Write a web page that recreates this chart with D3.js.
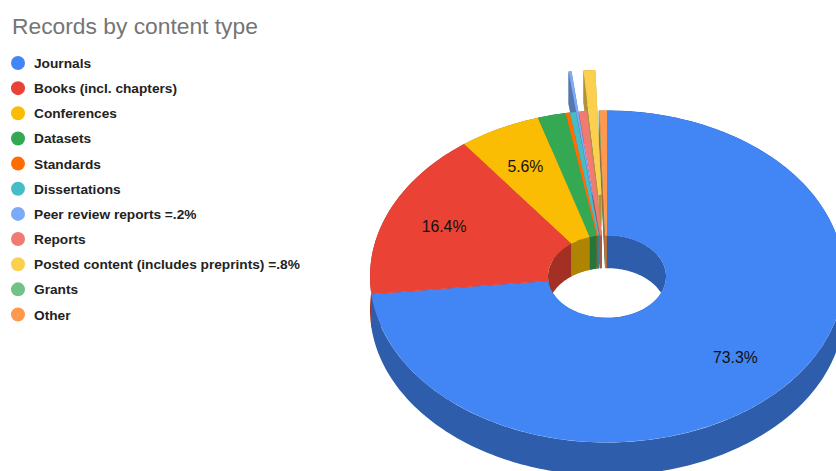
<!DOCTYPE html>
<html>
<head>
<meta charset="utf-8">
<title>Records by content type</title>
<script src="https://cdn.jsdelivr.net/npm/d3@7/dist/d3.min.js"></script>
<style>
  html, body { margin: 0; padding: 0; background: #fff; overflow: hidden; }
  svg { display: block; font-family: "Liberation Sans", Arial, sans-serif; }
</style>
</head>
<body>
<svg id="chart" width="836" height="471"></svg>
<script>
// Share of records per content type, in percent
const categories = ["Journals", "Books (incl. chapters)", "Conferences", "Datasets", "Standards",
  "Dissertations", "Peer review reports =.2%", "Reports", "Posted content (includes preprints) =.8%",
  "Grants", "Other"];
const shares = [73.3, 16.4, 5.6, 1.9, 0.3, 0.4, 0.2, 0.55, 0.8, 0.05, 0.5];
const colors = ["#4285f4", "#ea4335", "#fbbc04", "#34a853", "#ff6d01", "#46bdc6",
  "#7baaf7", "#f07b72", "#fcd04f", "#71c287", "#ff994d"];
const pulledOut = ["Peer review reports =.2%", "Posted content (includes preprints) =.8%"];
const valueLabels = ["Journals", "Books (incl. chapters)", "Conferences"];

// Tilted-disc geometry
const cx = 607, cy = 276.5, rx = 237, ry = 166, depth = 33;
const holeFrac = 0.249, pullFrac = 0.245, labelFrac = 0.74;
const squash = ry / rx;

const svg = d3.select("#chart");

svg.append("text").attr("x", 12).attr("y", 33.5)
  .attr("font-size", 22.8).attr("fill", "#757575").text("Records by content type");

// Legend
const legendY = d3.scalePoint().domain(categories).range([63, 314.5]);
const legend = svg.append("g").selectAll("g").data(categories).join("g")
  .attr("transform", d => `translate(0,${legendY(d)})`);
legend.append("circle").attr("cx", 18).attr("r", 7)
  .attr("fill", (d, i) => colors[i]);
legend.append("text").attr("x", 34).attr("y", 5)
  .attr("font-size", 13.7).attr("font-weight", 700).attr("fill", "#222").text(d => d);

// Slices
const slices = d3.pie().sort(null).value(d => d)(shares).map((s, i) => ({
  ...s,
  name: categories[i],
  color: colors[i],
  dark: d3.rgb(colors[i]).darker(1).formatHex(),
  pulled: pulledOut.includes(categories[i])
}));

const mid = s => (s.startAngle + s.endAngle) / 2;
const xAt = (a, r) => rx * r * Math.sin(a);
const yAt = (a, r) => -ry * r * Math.cos(a);
const shift = s => s.pulled ? [xAt(mid(s), pullFrac), yAt(mid(s), pullFrac)] : [0, 0];
const placed = s => `translate(${shift(s)[0]},${shift(s)[1]})`;

// A vertical band hanging below an arc of the disc at radius fraction r
const line = d3.line();
function band(a0, a1, r) {
  const steps = Math.max(2, Math.ceil((a1 - a0) / 0.02));
  const angles = d3.range(steps + 1).map(k => a0 + (a1 - a0) * k / steps);
  const upper = angles.map(a => [xAt(a, r), yAt(a, r)]);
  const lower = angles.slice().reverse().map(a => [xAt(a, r), yAt(a, r) + depth]);
  return line(upper.concat(lower)) + "Z";
}
// A radial wall along the cut edge of a slice
function cutWall(a) {
  return line([
    [xAt(a, holeFrac), yAt(a, holeFrac)],
    [xAt(a, 1), yAt(a, 1)],
    [xAt(a, 1), yAt(a, 1) + depth],
    [xAt(a, holeFrac), yAt(a, holeFrac) + depth]
  ]) + "Z";
}

const disc = svg.append("g").attr("transform", `translate(${cx},${cy})`);
const ordered = slices.filter(s => !s.pulled).concat(slices.filter(s => s.pulled));

// Cut edges sit deepest: they only show through the gaps left by pulled slices
const cuts = disc.append("g");
ordered.forEach(s => {
  const g = cuts.append("g").attr("transform", placed(s)).attr("fill", s.dark);
  g.append("path").attr("d", cutWall(s.startAngle));
  g.append("path").attr("d", cutWall(s.endAngle));
});

// Outer rim and the inside of the hole
const rims = disc.append("g");
ordered.forEach(s => {
  const g = rims.append("g").attr("transform", placed(s)).attr("fill", s.dark);
  g.append("path").attr("d", band(s.startAngle, s.endAngle, 1));
  g.append("path").attr("d", band(s.startAngle, s.endAngle, holeFrac));
});

// Top faces, drawn flat and squashed into the tilted plane
const arc = d3.arc().innerRadius(rx * holeFrac).outerRadius(rx);
const tops = disc.append("g");
ordered.forEach(s => {
  tops.append("path")
    .attr("transform", `${placed(s)} scale(1,${squash})`)
    .attr("fill", s.color)
    .attr("d", arc(s));
});

// Value labels on the three largest slices
disc.append("g").selectAll("text")
  .data(slices.filter(s => valueLabels.includes(s.name))).join("text")
  .attr("x", s => xAt(mid(s), labelFrac) - 2)
  .attr("y", s => yAt(mid(s), labelFrac) + 4.5)
  .attr("text-anchor", "middle")
  .attr("font-size", 15.8).attr("fill", "#111")
  .text(s => s.value.toFixed(1) + "%");
</script>
</body>
</html>
